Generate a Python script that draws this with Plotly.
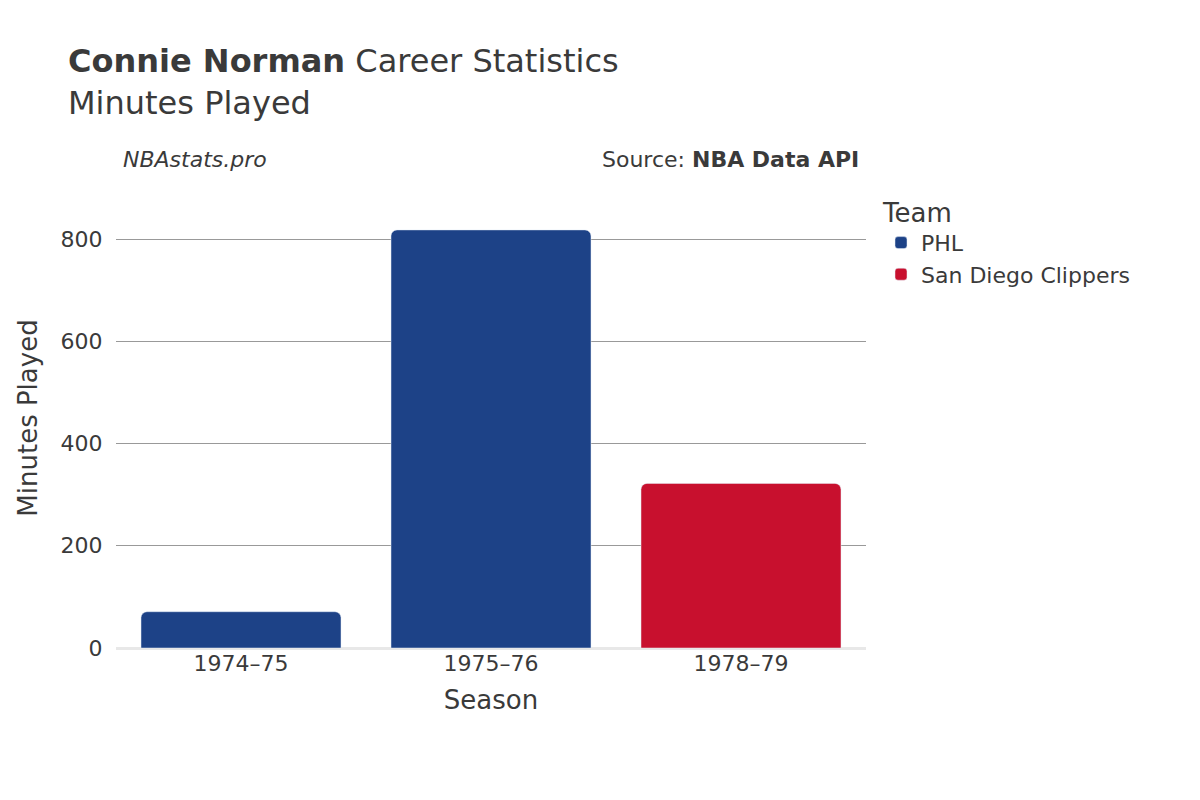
import plotly.graph_objects as go

seasons_phl = ["1974–75", "1975–76"]
minutes_phl = [71, 818]
seasons_sdc = ["1978–79"]
minutes_sdc = [322]
season_order = ["1974–75", "1975–76", "1978–79"]

fig = go.Figure()
fig.add_trace(go.Bar(x=seasons_phl, y=minutes_phl, name="PHL", marker_color="#1d4287"))
fig.add_trace(go.Bar(x=seasons_sdc, y=minutes_sdc, name="San Diego Clippers", marker_color="#c8102e"))

fig.update_layout(
    width=1200, height=800,
    barmode="overlay", bargap=0.2, barcornerradius=6,
    plot_bgcolor="white", paper_bgcolor="white",
    font=dict(family="DejaVu Sans", size=20, color="#3a3a3a"),
    margin=dict(l=108, r=342, t=180, b=160),
    title=dict(text="<b>Connie Norman</b> Career Statistics<br>Minutes Played",
               x=0.05, xanchor="left", y=0.92, yanchor="top", font=dict(size=32)),
    legend=dict(title=dict(text="Team", font=dict(size=26)), x=1.02, y=1.0, yanchor="top",
                font=dict(size=22)),
    annotations=[
        dict(text="<i>NBAstats.pro</i>", xref="paper", yref="paper", x=0.0, y=1.03,
             xanchor="left", yanchor="bottom", showarrow=False, font=dict(size=22), xshift=5),
        dict(text="Source: <b>NBA Data API</b>", xref="paper", yref="paper", x=1.0, y=1.03,
             xanchor="right", yanchor="bottom", showarrow=False, font=dict(size=22), xshift=-5),
    ],
)
fig.update_xaxes(title=dict(text="Season", font=dict(size=26)), categoryorder="array",
                 categoryarray=season_order, tickfont=dict(size=22))
fig.update_yaxes(title=dict(text="Minutes Played", font=dict(size=26)), range=[0, 900],
                 tickvals=[0, 200, 400, 600, 800], gridcolor="#999999",
                 zeroline=True, zerolinecolor="#e8e8e8", zerolinewidth=3,
                 tickfont=dict(size=22), ticks="outside", ticklen=8, tickcolor="white")
fig.write_html("out.html")
